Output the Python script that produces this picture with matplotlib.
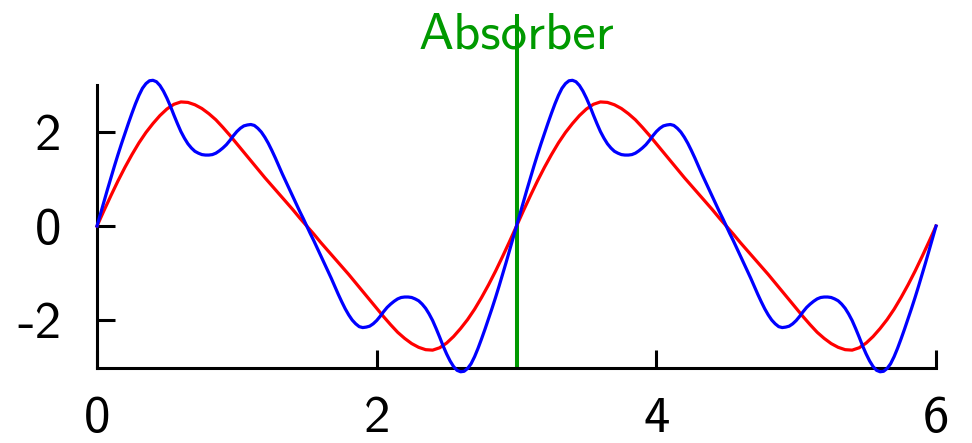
import numpy as np
import matplotlib
matplotlib.use("Agg")
import matplotlib.pyplot as plt

# both curves span two periods, x = 0..6
X_START, X_END = 0.0, 6.0
N_RED = 121    # every 0.05
N_BLUE = 241   # every 0.025, the ripple needs the finer step

# red: smooth wave
RED = [
    0.00, 0.33, 0.65, 0.96, 1.25, 1.52, 1.77, 1.99, 2.18, 2.35,
    2.49, 2.59, 2.64, 2.63, 2.58, 2.50, 2.39, 2.26, 2.10, 1.93,
    1.75, 1.57, 1.39, 1.21, 1.03, 0.86, 0.69, 0.52, 0.35, 0.17,
    0.00, -0.17, -0.35, -0.52, -0.69, -0.86, -1.03, -1.21, -1.39, -1.57,
    -1.75, -1.93, -2.10, -2.26, -2.39, -2.50, -2.58, -2.63, -2.64, -2.59,
    -2.49, -2.35, -2.18, -1.99, -1.77, -1.52, -1.25, -0.96, -0.65, -0.33,
    0.00, 0.33, 0.65, 0.96, 1.25, 1.52, 1.77, 1.99, 2.18, 2.35,
    2.49, 2.59, 2.64, 2.63, 2.58, 2.50, 2.39, 2.26, 2.10, 1.93,
    1.75, 1.57, 1.39, 1.21, 1.03, 0.86, 0.69, 0.52, 0.35, 0.17,
    0.00, -0.17, -0.35, -0.52, -0.69, -0.86, -1.03, -1.21, -1.39, -1.57,
    -1.75, -1.93, -2.10, -2.26, -2.39, -2.50, -2.58, -2.63, -2.64, -2.59,
    -2.49, -2.35, -2.18, -1.99, -1.77, -1.52, -1.25, -0.96, -0.65, -0.33,
    0.00,
]

# blue: same wave with the extra ripple
BLUE = [
    0.00, 0.26, 0.52, 0.78, 1.03, 1.28, 1.52, 1.75, 1.97, 2.19,
    2.40, 2.60, 2.78, 2.93, 3.03, 3.09, 3.10, 3.07, 2.99, 2.87,
    2.72, 2.55, 2.36, 2.18, 2.01, 1.87, 1.75, 1.66, 1.59, 1.55,
    1.52, 1.51, 1.51, 1.52, 1.55, 1.60, 1.66, 1.73, 1.82, 1.92,
    2.01, 2.08, 2.13, 2.15, 2.16, 2.14, 2.08, 2.00, 1.89, 1.76,
    1.61, 1.45, 1.28, 1.11, 0.95, 0.79, 0.63, 0.47, 0.31, 0.16,
    0.00, -0.16, -0.31, -0.47, -0.63, -0.79, -0.95, -1.11, -1.28, -1.45,
    -1.61, -1.76, -1.89, -2.00, -2.08, -2.14, -2.16, -2.15, -2.13, -2.08,
    -2.01, -1.92, -1.82, -1.73, -1.66, -1.60, -1.55, -1.52, -1.51, -1.51,
    -1.52, -1.55, -1.59, -1.66, -1.75, -1.87, -2.01, -2.18, -2.36, -2.55,
    -2.72, -2.87, -2.99, -3.07, -3.10, -3.09, -3.03, -2.93, -2.78, -2.60,
    -2.40, -2.19, -1.97, -1.75, -1.52, -1.28, -1.03, -0.78, -0.52, -0.26,
    0.00, 0.26, 0.52, 0.78, 1.03, 1.28, 1.52, 1.75, 1.97, 2.19,
    2.40, 2.60, 2.78, 2.93, 3.03, 3.09, 3.10, 3.07, 2.99, 2.87,
    2.72, 2.55, 2.36, 2.18, 2.01, 1.87, 1.75, 1.66, 1.59, 1.55,
    1.52, 1.51, 1.51, 1.52, 1.55, 1.60, 1.66, 1.73, 1.82, 1.92,
    2.01, 2.08, 2.13, 2.15, 2.16, 2.14, 2.08, 2.00, 1.89, 1.76,
    1.61, 1.45, 1.28, 1.11, 0.95, 0.79, 0.63, 0.47, 0.31, 0.16,
    0.00, -0.16, -0.31, -0.47, -0.63, -0.79, -0.95, -1.11, -1.28, -1.45,
    -1.61, -1.76, -1.89, -2.00, -2.08, -2.14, -2.16, -2.15, -2.13, -2.08,
    -2.01, -1.92, -1.82, -1.73, -1.66, -1.60, -1.55, -1.52, -1.51, -1.51,
    -1.52, -1.55, -1.59, -1.66, -1.75, -1.87, -2.01, -2.18, -2.36, -2.55,
    -2.72, -2.87, -2.99, -3.07, -3.10, -3.09, -3.03, -2.93, -2.78, -2.60,
    -2.40, -2.19, -1.97, -1.75, -1.52, -1.28, -1.03, -0.78, -0.52, -0.26,
    0.00,
]

ABSORBER_X = 3.0
ABSORBER_TOP = 4.52
ABSORBER_LABEL = "Absorber"

X_TICKS = [0, 2, 4, 6]
Y_TICKS = [-2, 0, 2]

GREEN = "#009900"
FS = 38

plt.rcParams.update({
    "font.family": ["cmss10", "DejaVu Sans"],
    "axes.unicode_minus": False,
    "font.size": FS,
})

x_red = np.linspace(X_START, X_END, N_RED)
x_blue = np.linspace(X_START, X_END, N_BLUE)

fig = plt.figure(figsize=(9.72, 4.43), dpi=100)
ax = fig.add_axes([0.0998, 0.1693, 0.8632, 0.6388])

# absorber marker: runs from the x axis up past the top of the axes
ax.plot([ABSORBER_X, ABSORBER_X], [-3.02, ABSORBER_TOP], color=GREEN, lw=2.9,
        clip_on=False, zorder=2, solid_capstyle="butt")
ax.text(ABSORBER_X, 3.78, ABSORBER_LABEL, color=GREEN, ha="center", va="baseline",
        fontsize=FS)

ax.plot(x_red, RED, color="red", lw=2.3, clip_on=False, zorder=3)
ax.plot(x_blue, BLUE, color="blue", lw=2.3, clip_on=False, zorder=4)

ax.set_xlim(0, 6)
ax.set_ylim(-3.02, 3.0)
ax.set_xticks(X_TICKS)
ax.set_yticks(Y_TICKS)
ax.set_xticklabels([str(t) for t in X_TICKS])
ax.set_yticklabels([str(t) for t in Y_TICKS])

ax.spines[["top", "right"]].set_visible(False)
ax.spines[["left", "bottom"]].set_linewidth(2.2)
ax.tick_params(direction="in", length=13, width=2.2, labelsize=FS)
ax.tick_params(axis="y", pad=26)
ax.tick_params(axis="x", pad=20)

fig.savefig("out.png", dpi=100, facecolor="white")
